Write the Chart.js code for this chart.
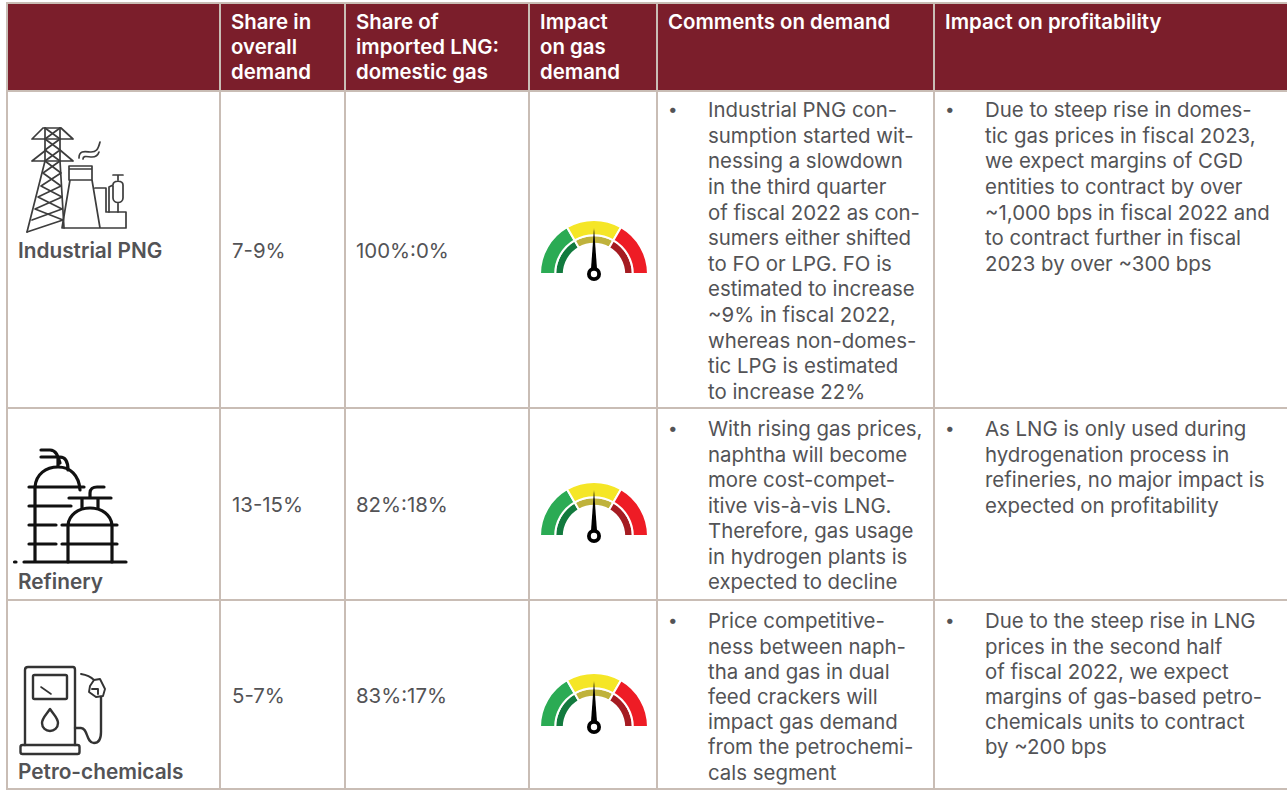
<!DOCTYPE html>
<html>
<head>
<meta charset="utf-8">
<script src="https://cdn.jsdelivr.net/npm/chart.js@4"></script>
<style>
  html, body { margin: 0; padding: 0; background: #fff; overflow: hidden; }
  body { width: 1287px; height: 790px; position: relative; font-family: Inter, sans-serif; color: #535356; }
  .cell { position: absolute; box-sizing: border-box; }
  .head { background: #7b1e2b; }
  .vline, .hline { position: absolute; background: #c9bdb5; }
  .txt { position: absolute; font-size: 20.4px; white-space: pre; }
  .htxt { position: absolute; font-size: 20.4px; font-weight: 600; color: #fff; white-space: pre; line-height: 25.2px; }
  .bul { position: absolute; font-size: 17px; }
  .gauge { position: absolute; }
  #icons { position: absolute; left: 0; top: 0; }
</style>
</head>
<body>
<div class="cell head" style="left:7px;top:3px;width:1280px;height:88px"></div>
<div id="table"></div>
<svg id="icons" width="1287" height="790" viewBox="0 0 1287 790" fill="none" stroke-linecap="round" stroke-linejoin="round">
  <!-- industrial -->
  <g stroke="#3d3d3d" stroke-width="1.7">
    <path d="M32 139H73M32 161H73M43 128H61M43 128L32 139M61 128L73 139M46 150L32 161M60 150L73 161"/>
    <path d="M45 128L45 161L27 232M60 128L60 161L64 228"/>
    <path d="M45 128L60 139M60 128L45 139M45 139L60 150M60 139L45 150M45 150L60 161M60 150L45 161"/>
    <path d="M45 161L61 173L41 186L62 197L35 209L63 220L27 232M60 161L43 173L61 186L38 197L62 209L32 220"/>
    <path d="M69 166H92V180H69ZM69 169H92M70 180L62 228M92 180L100 228M62 228H126V212H106V188H95"/>
    <path d="M113 185C113 180 123 180 123 185V198C123 204 113 204 113 198ZM113 175H123M118 175V180M118 203V212M109 212V187L113 185"/>
    <path d="M79 158C79 149 87 152 91 152C96 152 98 150 100 142M83 159C83 155 88 157 92 157C96 157 98 155 99 152"/>
  </g>
  <!-- refinery -->
  <g stroke="#111" stroke-width="3.2">
    <path d="M24 562H126M14.5 562H16M35 487V562M29 487H84M29 506H71M29 525H56M29 544H56"/>
    <path d="M35 487C36 474 46 467 58 467C70 467 79 475 80 490"/>
    <path d="M68 562V525M112 562V525M62 525H117M62 544H117M68 525C69 515 78 508 90 508C102 508 111 515 112 525"/>
    <path d="M69 498H111M82 498V508M98 498V508M90 498V493C90 489 93 487 97 487H104"/>
    <path d="M41 450H50C56 450 58 456 60 463M41 457H60C66 457 68 463 68 470M58 457V466"/>
  </g>
  <!-- petro-chemicals -->
  <g stroke="#333" stroke-width="2.4">
    <path d="M25 745V670C25 668 26 667 28 667H73C74 667 75 668 75 670V745"/>
    <rect x="20.5" y="745" width="59" height="9" rx="2"/>
    <rect x="33" y="675" width="34" height="24" rx="1.5"/>
    <path d="M41 687L51 694" stroke-width="1.6"/>
    <path d="M50 709C46 715 42 718 42 723C42 728 46 731 50 731C54 731 58 728 58 723C58 718 54 715 50 709Z"/>
    <path d="M75 728H81C88 728 86 743 94 743C100 743 101 738 101 732V697"/>
    <path d="M81 674C87 675 91 677 94 680M94 680L100 679L105 689L103 696L96 697L89 692L90 686ZM92 689H98V694" stroke-width="1.9"/>
  </g>
</svg>
<script>
// values
const headers = ["Share in\noverall\ndemand", "Share of\nimported LNG:\ndomestic gas", "Impact\non gas\ndemand", "Comments on demand", "Impact on profitability"]
const segments = ["Industrial PNG", "Refinery", "Petro-chemicals"]
const overallShare = ["7-9%", "13-15%", "5-7%"]
const lngShare = ["100%:0%", "82%:18%", "83%:17%"]
const comments = [
  "Industrial PNG con-\nsumption started wit-\nnessing a slowdown\nin the third quarter\nof fiscal 2022 as con-\nsumers either shifted\nto FO or LPG. FO is\nestimated to increase\n~9% in fiscal 2022,\nwhereas non-domes-\ntic LPG is estimated\nto increase 22%",
  "With rising gas prices,\nnaphtha will become\nmore cost-compet-\nitive vis-à-vis LNG.\nTherefore, gas usage\nin hydrogen plants is\nexpected to decline",
  "Price competitive-\nness between naph-\ntha and gas in dual\nfeed crackers will\nimpact gas demand\nfrom the petrochemi-\ncals segment",
]
const profitability = [
  "Due to steep rise in domes-\ntic gas prices in fiscal 2023,\nwe expect margins of CGD\nentities to contract by over\n~1,000 bps in fiscal 2022 and\nto contract further in fiscal\n2023 by over ~300 bps",
  "As LNG is only used during\nhydrogenation process in\nrefineries, no major impact is\nexpected on profitability",
  "Due to the steep rise in LNG\nprices in the second half\nof fiscal 2022, we expect\nmargins of gas-based petro-\nchemicals units to contract\nby ~200 bps",
]
const gaugeBands = [1, 1, 1]
const needleValues = [50, 50, 50]
const bandColors = ["#2bab54", "#f5e626", "#ee1c25"]
const innerColors = ["#127a3e", "#bfb23c", "#a51c22"]

// layout of the table
const colX = [7, 220, 345, 529, 657, 934]
const rowY = [3, 91, 408, 600, 789]
const labelY = [251, 582, 772]
const valueY = [251, 505, 696]
const listTop = [110, 429, 621]
const listLead = [25.6, 25.5, 25.2]
const gaugeY = [273, 535, 726.5]

const table = document.getElementById("table")
const add = (cls, style, text) => {
  const d = document.createElement("div")
  d.className = cls
  d.style.cssText = style
  if (text !== undefined) d.textContent = text
  table.appendChild(d)
  return d
}

colX.forEach((x) => add("vline", `left:${x - 1}px;top:3px;width:1.5px;height:787px`))
rowY.forEach((y) => add("hline", `left:6px;top:${y - 1}px;width:1281px;height:1.5px`))

headers.forEach((h, i) => add("htxt", `left:${colX[i + 1] + 11}px;top:9px`, h))

segments.forEach((s, i) => {
  const lead = listLead[i]
  add("txt", `left:18px;top:${labelY[i] - 12}px;line-height:24px;font-weight:600;font-size:20.8px`, s)
  add("txt", `left:232px;top:${valueY[i] - 12}px;line-height:24px`, overallShare[i])
  add("txt", `left:356px;top:${valueY[i] - 12}px;line-height:24px`, lngShare[i])
  add("bul", `left:668px;top:${listTop[i] - lead / 2}px;line-height:${lead}px`, "•")
  add("txt", `left:708px;top:${listTop[i] - lead / 2}px;line-height:${lead}px`, comments[i])
  add("bul", `left:945px;top:${listTop[i] - lead / 2}px;line-height:${lead}px`, "•")
  add("txt", `left:985px;top:${listTop[i] - lead / 2}px;line-height:${lead}px`, profitability[i])
})

const needlePlugin = {
  id: "needle",
  afterDraw(chart, args, opts) {
    const arc = chart.getDatasetMeta(0).data[0]
    const { ctx } = chart
    const a = Math.PI + (opts.value / opts.max) * Math.PI
    ctx.save()
    ctx.translate(arc.x, arc.y)
    ctx.rotate(a)
    ctx.fillStyle = "#000"
    ctx.beginPath()
    ctx.moveTo(46, 0)
    ctx.lineTo(0, 3.4)
    ctx.lineTo(0, -3.4)
    ctx.closePath()
    ctx.fill()
    ctx.beginPath()
    ctx.arc(0, 0, 7, 0, Math.PI * 2)
    ctx.fill()
    ctx.fillStyle = "#fff"
    ctx.beginPath()
    ctx.arc(0, 0, 3.2, 0, Math.PI * 2)
    ctx.fill()
    ctx.restore()
  },
}

needleValues.forEach((v, i) => {
  const canvas = document.createElement("canvas")
  canvas.className = "gauge"
  canvas.width = 120
  canvas.height = 80
  // arc centre sits at 60, 66.5 inside the canvas
  canvas.style.left = "534px"
  canvas.style.top = gaugeY[i] - 66.5 + "px"
  canvas.style.width = "120px"
  canvas.style.height = "80px"
  table.appendChild(canvas)
  new Chart(canvas.getContext("2d"), {
    type: "doughnut",
    data: {
      labels: ["Low", "Medium", "High"],
      datasets: [
        { data: gaugeBands, backgroundColor: bandColors, borderColor: "#fff", borderWidth: 2, weight: 15 },
        { data: gaugeBands, backgroundColor: innerColors, borderColor: "#fff", borderWidth: 2, weight: 8.5 },
      ],
    },
    options: {
      responsive: false,
      animation: false,
      rotation: -90,
      circumference: 180,
      radius: 54,
      cutout: "56%",
      plugins: {
        legend: { display: false },
        tooltip: { enabled: false },
        needle: { value: v, max: 100 },
      },
    },
    plugins: [needlePlugin],
  })
})
</script>
</body>
</html>
